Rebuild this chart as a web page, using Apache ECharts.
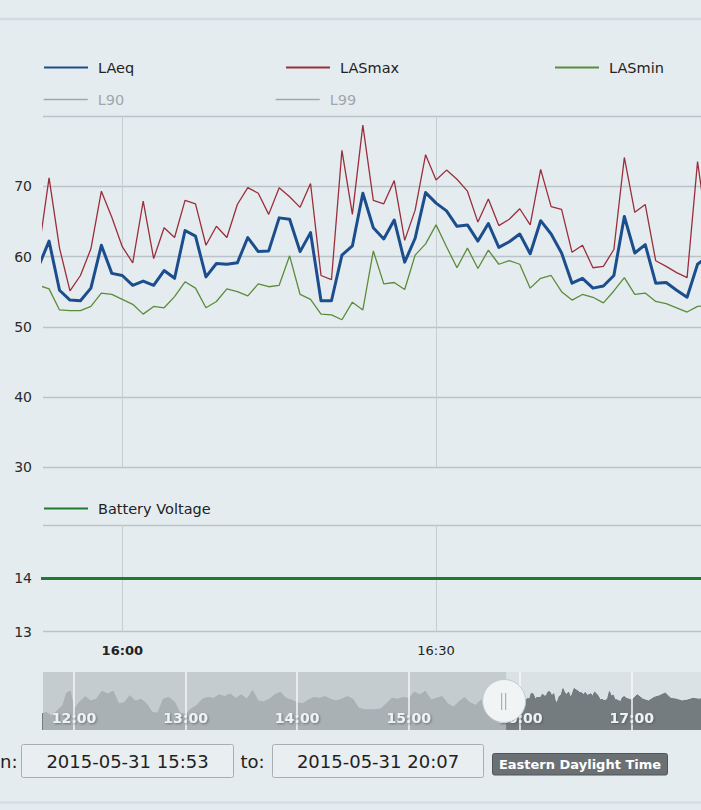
<!DOCTYPE html>
<html><head><meta charset="utf-8">
<script src="https://cdn.jsdelivr.net/npm/echarts@6/dist/echarts.min.js"></script>
<style>html,body{margin:0;padding:0;background:#e5ecef;}#c{width:701px;height:810px;}</style>
</head><body><div id="c"></div>
<script>
// ---------------- DATA ----------------
const times = [
  '15:52','15:53','15:54','15:55','15:56','15:57','15:58','15:59',
  '16:00','16:01','16:02','16:03','16:04','16:05','16:06','16:07','16:08','16:09',
  '16:10','16:11','16:12','16:13','16:14','16:15','16:16','16:17','16:18','16:19',
  '16:20','16:21','16:22','16:23','16:24','16:25','16:26','16:27','16:28','16:29',
  '16:30','16:31','16:32','16:33','16:34','16:35','16:36','16:37','16:38','16:39',
  '16:40','16:41','16:42','16:43','16:44','16:45','16:46','16:47','16:48','16:49',
  '16:50','16:51','16:52','16:53','16:54','16:55','16:56'
];
const laeq = [
  58.6, 62.2, 55.2, 53.8, 53.7, 55.5, 61.6, 57.6,
  57.3, 55.9, 56.5, 55.9, 58.0, 56.9, 63.7, 62.9, 57.1, 59.0,
  58.9, 59.1, 62.7, 60.7, 60.8, 65.5, 65.3, 60.7, 63.4, 53.7,
  53.7, 60.2, 61.5, 69.0, 64.1, 62.5, 65.2, 59.2, 62.6, 69.1,
  67.6, 66.5, 64.3, 64.5, 62.2, 64.7, 61.3, 62.1, 63.2, 60.4,
  65.1, 63.2, 60.5, 56.2, 56.9, 55.5, 55.8, 57.3, 65.7, 60.5,
  61.7, 56.2, 56.3, 55.2, 54.2, 58.9, 60.0
];
const lasmax = [
  60.7, 71.2, 61.2, 55.1, 57.3, 61.1, 69.3, 65.6,
  61.4, 59.1, 67.9, 59.7, 64.1, 62.7, 68.0, 67.5, 61.6, 64.3,
  62.7, 67.4, 69.8, 69.0, 66.0, 69.8, 68.5, 67.0, 70.4, 57.3,
  56.7, 75.1, 66.0, 78.7, 68.0, 67.5, 70.8, 62.3, 66.6, 74.5,
  70.9, 72.3, 71.0, 69.3, 64.9, 68.2, 64.4, 65.3, 66.8, 64.5,
  72.4, 67.1, 66.7, 60.6, 61.6, 58.4, 58.6, 61.0, 74.1, 66.3,
  67.4, 59.4, 58.6, 57.7, 57.0, 73.5, 63.0
];
const lasmin = [
  55.9, 55.4, 52.4, 52.3, 52.3, 52.9, 54.8, 54.6,
  53.9, 53.2, 51.8, 52.9, 52.7, 54.3, 56.4, 55.5, 52.7, 53.6,
  55.4, 55.0, 54.4, 56.1, 55.7, 55.9, 60.1, 54.6, 53.9, 51.8,
  51.7, 51.0, 53.5, 52.4, 60.8, 56.1, 56.3, 55.3, 60.2, 61.8,
  64.5, 61.4, 58.4, 61.2, 58.3, 60.9, 58.9, 59.4, 58.9, 55.5,
  56.9, 57.3, 55.0, 53.8, 54.6, 54.2, 53.4, 55.1, 57.0, 54.6,
  54.8, 53.6, 53.3, 52.7, 52.1, 52.9, 53.0
];
const l90 = [];
const l99 = [];
const batteryTimes = ['15:50','15:55','16:00','16:05','16:10','16:15','16:20','16:25','16:30','16:35','16:40','16:45','16:50','16:55','17:00'];
const batteryVolts = [14.0,14.0,14.0,14.0,14.0,14.0,14.0,14.0,14.0,14.0,14.0,14.0,14.0,14.0,14.0];
// navigator (overview of LAeq) before and after the zoomed window
const navEarlyTimes = [
  '11:42','11:45','11:48','11:51','11:54','11:56','11:58','12:00','12:03','12:06','12:09','12:12','12:15','12:18','12:21',
  '12:24','12:27','12:30','12:33','12:36','12:39','12:42','12:45','12:48','12:51','12:54','12:57','13:00','13:03','13:06',
  '13:09','13:12','13:15','13:18','13:21','13:24','13:27','13:30','13:33','13:36','13:39','13:42','13:45','13:48','13:51',
  '13:54','13:57','14:00','14:03','14:06','14:09','14:12','14:15','14:18','14:21','14:24','14:27','14:30','14:33','14:36',
  '14:39','14:42','14:45','14:48','14:51','14:54','14:57','15:00','15:03','15:06','15:09','15:12','15:15','15:18','15:21',
  '15:24','15:27','15:30','15:33','15:36','15:39','15:42','15:45','15:48','15:51'
];
const navEarly = [
  40, 42, 38, 44, 50, 64, 66, 45, 54, 60, 55, 57, 66, 63, 66,
  52, 53, 61, 55, 57, 52, 42, 41, 57, 59, 54, 41, 40, 46, 50,
  57, 59, 58, 62, 60, 63, 58, 62, 57, 67, 55, 54, 57, 62, 65,
  58, 56, 53, 52, 56, 59, 58, 60, 57, 55, 57, 60, 57, 47, 45,
  45, 45, 46, 52, 58, 57, 59, 58, 65, 62, 66, 56, 58, 60, 52,
  48, 54, 59, 53, 50, 56, 55, 57, 56, 59
];
const navLateTimes = ['16:57','17:00','17:03','17:06','17:09','17:12','17:15','17:18','17:21','17:24','17:27','17:30','17:33','17:36','17:39'];
const navLate = [58, 56, 62, 57, 55, 59, 61, 64, 58, 57, 55, 56, 58, 57, 58];
const xTickLabels = ['16:00','16:30'];
const navTickLabels = ['12:00','13:00','14:00','15:00','16:00','17:00'];
const fromLabelVisible = 'n:';   // only the tail of "from:" is inside the frame
const fromText = '2015-05-31 15:53';
const toText = '2015-05-31 20:07';
const tzText = 'Eastern Daylight Time';

// ---------------- HELPERS ----------------
const toMin = s => { const p = s.split(':').map(Number); return p[0]*60 + p[1]; };
const pad = n => String(n).padStart(2,'0');
const fmtMin = v => pad(Math.floor(v/60)) + ':' + pad(Math.round(v % 60));
const zip = (ts, vs) => ts.map((t,i) => [toMin(t), vs[i]]);
const FONT = 'DejaVu Sans';

// layout
const viewMin = 952.42, viewMax = 1015.33;   // visible window of main charts (minutes)
const navMin = 703.3, navMax = 1057.25;       // visible window of the navigator

const navData = zip(navEarlyTimes, navEarly).concat(zip(times, laeq), zip(navLateTimes, navLate));

const chart = echarts.init(document.getElementById('c'), null, {renderer:'svg'});

function leg(name, left, top, extra) {
  return Object.assign({
    data:[name], left, top, padding:0, itemWidth:44, itemHeight:16,
    itemStyle:{opacity:0},
    lineStyle:{inactiveColor:'#9ea8ad', inactiveWidth:1.5},
    textStyle:{fontFamily:FONT, fontSize:14.5, color:'#222', padding:[0,0,0,5]},
    inactiveColor:'#9ea8ad', inactiveBorderColor:'#9ea8ad'
  }, extra || {});
}

const hLine = {show:true, lineStyle:{color:'#bac3c7', width:1.4}};
const vLine = {show:true, lineStyle:{color:'#c6ced2', width:1}};
const yLab = {fontFamily:FONT, fontSize:14, color:'#2a2a2a', margin:11, showMaxLabel:false};

function xLabelFmt(v) {
  const s = fmtMin(v);
  return Math.round(v % 60) === 0 ? '{b|' + s + '}' : '{n|' + s + '}';
}

const option = {
  backgroundColor:'#e5ecef',
  animation:false,
  textStyle:{fontFamily:FONT},
  legend:[
    leg('LAeq', 43, 60),
    leg('LASmax', 285, 60),
    leg('LASmin', 554, 60),
    leg('L90', 43, 92, {selected:{'L90':false}}),
    leg('L99', 275, 92, {selected:{'L99':false}}),
    leg('Battery Voltage', 43, 501)
  ],
  grid:[
    {left:43, right:0, top:116, height:351.3, containLabel:false},
    {left:43, right:0, top:525.2, height:106.4, containLabel:false},
    {left:43, right:0, top:672, height:58, show:true, backgroundColor:'#dbe2e5', borderWidth:0}
  ],
  xAxis:[
    {type:'value', gridIndex:0, min:viewMin, max:viewMax,
     axisLine:{show:false}, axisLabel:{show:false},
     axisTick:{show:false, customValues:xTickLabels.map(toMin)}, splitLine:vLine},
    {type:'value', gridIndex:1, min:viewMin, max:viewMax,
     axisLine:{show:false},
     axisTick:{show:false, customValues:xTickLabels.map(toMin)},
     axisLabel:{customValues:xTickLabels.map(toMin), formatter:xLabelFmt, margin:12,
       rich:{b:{fontFamily:FONT, fontSize:13, fontWeight:'bold', color:'#222'},
             n:{fontFamily:FONT, fontSize:13, color:'#222'}}},
     splitLine:vLine},
    {type:'value', gridIndex:2, min:navMin, max:navMax, z:20,
     axisLine:{show:false},
     axisTick:{show:false, customValues:navTickLabels.map(toMin)},
     axisLabel:{customValues:navTickLabels.map(toMin), formatter:v => fmtMin(v), inside:true, margin:5,
       fontFamily:FONT, fontSize:14, fontWeight:'bold', color:'#eef2f3', verticalAlign:'bottom',
       textShadowColor:'rgba(60,70,75,0.6)', textShadowBlur:2, textShadowOffsetX:1, textShadowOffsetY:1},
     splitLine:{show:true, lineStyle:{color:'#f4f7f8', width:1.5}}}
  ],
  yAxis:[
    {type:'value', gridIndex:0, min:30, max:80, interval:10,
     axisLine:{show:false}, axisTick:{show:false}, axisLabel:yLab, splitLine:hLine},
    {type:'value', gridIndex:1, min:13, max:15, interval:1,
     axisLine:{show:false}, axisTick:{show:false}, axisLabel:yLab, splitLine:hLine},
    {type:'value', gridIndex:2, min:22, max:88, show:false, splitLine:{show:false}}
  ],
  series:[
    {name:'LAeq', type:'line', xAxisIndex:0, yAxisIndex:0, data:zip(times, laeq), symbol:'none',
     color:'#1c4e8e', lineStyle:{width:3, color:'#1c4e8e', join:'round'}},
    {name:'LASmax', type:'line', xAxisIndex:0, yAxisIndex:0, data:zip(times, lasmax), symbol:'none',
     color:'#9a2e3b', lineStyle:{width:1.3, color:'#9a2e3b'}},
    {name:'LASmin', type:'line', xAxisIndex:0, yAxisIndex:0, data:zip(times, lasmin), symbol:'none',
     color:'#5b8c3a', lineStyle:{width:1.3, color:'#5b8c3a'}},
    {name:'L90', type:'line', xAxisIndex:0, yAxisIndex:0, data:l90, symbol:'none',
     color:'#7d8a90', lineStyle:{width:1.3}},
    {name:'L99', type:'line', xAxisIndex:0, yAxisIndex:0, data:l99, symbol:'none',
     color:'#7d8a90', lineStyle:{width:1.3}},
    {name:'Battery Voltage', type:'line', xAxisIndex:1, yAxisIndex:1, data:zip(batteryTimes, batteryVolts), symbol:'none',
     color:'#1f7a30', lineStyle:{width:3, color:'#1f7a30'}},
    {name:'nav', type:'line', xAxisIndex:2, yAxisIndex:2, data:navData, symbol:'none',
     color:'#737b7f', lineStyle:{width:1, color:'#6f777b'}, areaStyle:{color:'#747c80', opacity:1}}
  ],
  graphic:[
    {type:'line', id:'topline', shape:{x1:0, y1:19, x2:701, y2:19}, style:{stroke:'#d2dbdf', lineWidth:2.5}},
    {type:'line', id:'botline', shape:{x1:0, y1:802.5, x2:701, y2:802.5}, style:{stroke:'#d2dbdf', lineWidth:2}},
    {type:'text', id:'fromLbl', x:0, y:761, style:{text:fromLabelVisible, font:'18px "DejaVu Sans"', fill:'#222', align:'left', verticalAlign:'middle'}},
    {type:'rect', id:'box1', shape:{x:21.5, y:744.5, width:212, height:33, r:2}, style:{fill:'#e9eff1', stroke:'#a8afb2', lineWidth:1}},
    {type:'text', id:'box1t', x:127.5, y:761, style:{text:fromText, font:'18px "DejaVu Sans"', fill:'#222', align:'center', verticalAlign:'middle'}},
    {type:'text', id:'toLbl', x:240.5, y:761, style:{text:'to:', font:'18px "DejaVu Sans"', fill:'#222', align:'left', verticalAlign:'middle'}},
    {type:'rect', id:'box2', shape:{x:272.5, y:744.5, width:211, height:33, r:2}, style:{fill:'#e9eff1', stroke:'#a8afb2', lineWidth:1}},
    {type:'text', id:'box2t', x:378, y:761, style:{text:toText, font:'18px "DejaVu Sans"', fill:'#222', align:'center', verticalAlign:'middle'}},
    {type:'rect', id:'badge', shape:{x:492.5, y:753.5, width:175, height:21.5, r:2}, style:{fill:'#6a7074', stroke:'#4f5559', lineWidth:1}},
    {type:'text', id:'badget', x:580, y:764.5, style:{text:tzText, font:'bold 13px "DejaVu Sans"', fill:'#ffffff', align:'center', verticalAlign:'middle'}}
  ]
};
chart.setOption(option);

// navigator mask + handle placed from data coordinates
const pL = chart.convertToPixel({gridIndex:2}, [navMin, 22]);
const pS = chart.convertToPixel({gridIndex:2}, [viewMin, 88]);
const pB = chart.convertToPixel({gridIndex:2}, [viewMin, 22]);
const cy = (pS[1] + pB[1]) / 2;
chart.setOption({graphic:[
  {type:'rect', id:'mask', z:10, shape:{x:pL[0], y:pS[1], width:pS[0]-pL[0], height:pB[1]-pS[1]}, style:{fill:'rgba(188,196,200,0.74)'}},
  {type:'circle', id:'handle', z:30, shape:{cx:pS[0]-2, cy:cy, r:21.5}, style:{fill:'#f1f4f5', stroke:'#c2c8cb', lineWidth:1}},
  {type:'line', id:'h1', z:31, shape:{x1:pS[0]-4.5, y1:cy-8, x2:pS[0]-4.5, y2:cy+9}, style:{stroke:'#a9b0b3', lineWidth:1.2}},
  {type:'line', id:'h2', z:31, shape:{x1:pS[0]-0.5, y1:cy-8, x2:pS[0]-0.5, y2:cy+9}, style:{stroke:'#a9b0b3', lineWidth:1.2}}
]});
</script>
</body></html>
